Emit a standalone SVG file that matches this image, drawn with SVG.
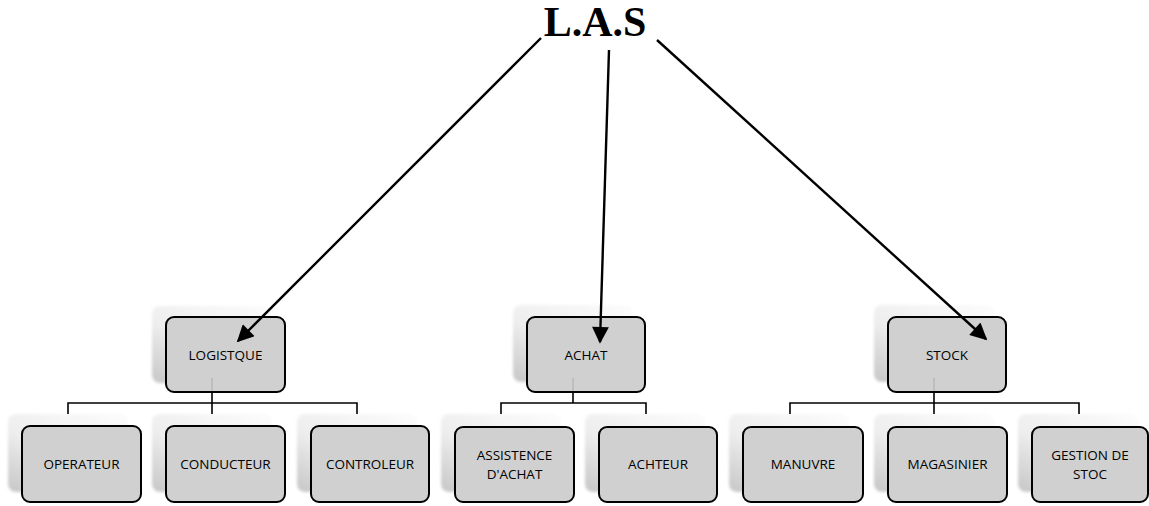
<svg xmlns="http://www.w3.org/2000/svg" width="1149" height="506" viewBox="0 0 1149 506">
<style>
.box{fill:#d0d0d0;stroke:#000;stroke-width:2}
.sh{fill:url(#shg);filter:url(#blur)}
.lbl{font-family:"Open Sans","Liberation Sans",sans-serif;font-size:13.5px;fill:#000;text-anchor:middle}
.con{fill:none;stroke:#000;stroke-width:1.6}
.faint{stroke:#b8b8b8;stroke-width:1.5}
.arr{stroke:#000;stroke-width:2.4;fill:none;marker-end:url(#ah)}
.title{font-family:"Liberation Serif",serif;font-weight:bold;font-size:42px;fill:#000;text-anchor:middle}
</style>
<defs>
<linearGradient id="shg" x1="0.9" y1="0" x2="0.1" y2="1">
<stop offset="0" stop-color="#fbfbfb"/>
<stop offset="0.55" stop-color="#eeeeee"/>
<stop offset="1" stop-color="#cacaca"/>
</linearGradient>
<filter id="blur" x="-20%" y="-20%" width="140%" height="140%"><feGaussianBlur stdDeviation="1.5"/></filter>
<marker id="ah" viewBox="0 0 10 10" refX="9" refY="5" markerWidth="8" markerHeight="7" markerUnits="strokeWidth" orient="auto">
<path d="M0,0 L10,5 L0,10 z" fill="#000"/>
</marker>
</defs>
<text class="title" x="595" y="36">L.A.S</text>
<g id="logistque"><rect class="sh" x="152" y="306" width="120" height="77" rx="8"/><rect class="box" x="166" y="317" width="119" height="75" rx="8"/><text class="lbl" x="225.5" y="360">LOGISTQUE</text></g>
<g id="achat"><rect class="sh" x="513" y="305" width="120" height="77" rx="8"/><rect class="box" x="527" y="317" width="118" height="75" rx="8"/><text class="lbl" x="586" y="360">ACHAT</text></g>
<g id="stock"><rect class="sh" x="874" y="305" width="120" height="77" rx="8"/><rect class="box" x="888" y="317" width="118" height="75" rx="8"/><text class="lbl" x="947" y="360">STOCK</text></g>
<g id="operateur"><rect class="sh" x="8" y="414" width="120" height="78" rx="8"/><rect class="box" x="22" y="426" width="119" height="76" rx="8"/><text class="lbl" x="81.5" y="469">OPERATEUR</text></g>
<g id="conducteur"><rect class="sh" x="152" y="414" width="120" height="78" rx="8"/><rect class="box" x="166" y="426" width="119" height="76" rx="8"/><text class="lbl" x="225.5" y="469">CONDUCTEUR</text></g>
<g id="controleur"><rect class="sh" x="297" y="414" width="120" height="78" rx="8"/><rect class="box" x="311" y="426" width="118" height="76" rx="8"/><text class="lbl" x="370" y="469">CONTROLEUR</text></g>
<g id="assistence"><rect class="sh" x="441" y="414" width="120" height="78" rx="8"/><rect class="box" x="455" y="427" width="119" height="75" rx="8"/><text class="lbl" x="514.5" y="460">ASSISTENCE</text><text class="lbl" x="514.5" y="479">D'ACHAT</text></g>
<g id="achteur"><rect class="sh" x="585" y="414" width="120" height="78" rx="8"/><rect class="box" x="599" y="427" width="118" height="75" rx="8"/><text class="lbl" x="658" y="469">ACHTEUR</text></g>
<g id="manuvre"><rect class="sh" x="729" y="414" width="120" height="78" rx="8"/><rect class="box" x="743" y="427" width="120" height="75" rx="8"/><text class="lbl" x="803" y="469">MANUVRE</text></g>
<g id="magasinier"><rect class="sh" x="874" y="414" width="120" height="78" rx="8"/><rect class="box" x="888" y="427" width="119" height="75" rx="8"/><text class="lbl" x="947.5" y="469">MAGASINIER</text></g>
<g id="gestion"><rect class="sh" x="1018" y="414" width="120" height="78" rx="8"/><rect class="box" x="1032" y="427" width="116" height="75" rx="8"/><text class="lbl" x="1090" y="460">GESTION DE</text><text class="lbl" x="1090" y="479">STOC</text></g>
<g id="connectors">
<path class="con" d="M212,392 V403 M68,414 V403 H357 V414 M212,403 V414"/>
<path class="con" d="M573,392 V403 M501,414 V403 H646 V414"/>
<path class="con" d="M934,392 V403 M790,414 V403 H1079 V414 M934,403 V414"/>
<line class="faint" x1="212" y1="378" x2="212" y2="391"/>
<line class="faint" x1="573" y1="378" x2="573" y2="391"/>
<line class="faint" x1="934" y1="378" x2="934" y2="391"/>
<line class="arr" x1="541" y1="38" x2="238" y2="341"/>
<line class="arr" x1="609" y1="50" x2="600" y2="342"/>
<line class="arr" x1="657" y1="40" x2="986" y2="339"/>
</g>
</svg>
